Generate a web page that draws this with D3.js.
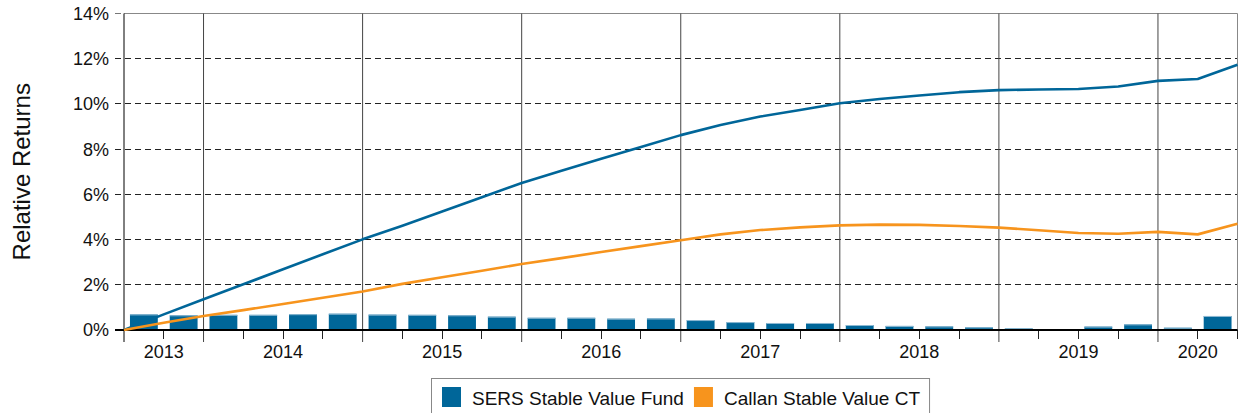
<!DOCTYPE html>
<html>
<head>
<meta charset="utf-8">
<script src="https://cdn.jsdelivr.net/npm/d3@7"></script>
<style>
  html, body { margin: 0; padding: 0; background: #fff; }
  svg { display: block; font-family: "Liberation Sans", Arial, sans-serif; }
</style>
</head>
<body>
<svg id="chart" width="1238" height="413"></svg>
<script>
// Quarterly periods, Q3 2013 through Q2 2020
const quarters = [
  "2013 Q3", "2013 Q4",
  "2014 Q1", "2014 Q2", "2014 Q3", "2014 Q4",
  "2015 Q1", "2015 Q2", "2015 Q3", "2015 Q4",
  "2016 Q1", "2016 Q2", "2016 Q3", "2016 Q4",
  "2017 Q1", "2017 Q2", "2017 Q3", "2017 Q4",
  "2018 Q1", "2018 Q2", "2018 Q3", "2018 Q4",
  "2019 Q1", "2019 Q2", "2019 Q3", "2019 Q4",
  "2020 Q1", "2020 Q2"
];

// Quarterly return of the fund (%), drawn as bars
const sersQuarterly = [
  0.69, 0.65, 0.67, 0.67, 0.70, 0.72, 0.68, 0.67, 0.65, 0.59,
  0.54, 0.54, 0.50, 0.51, 0.44, 0.35, 0.31, 0.31, 0.22, 0.18,
  0.16, 0.12, 0.07, 0.03, 0.15, 0.25, 0.10, 0.62
];

// Cumulative relative returns (%), at the start and at each quarter end
const sersCumulative = [
  0.00, 0.69, 1.36, 2.02, 2.69, 3.35, 4.01, 4.61, 5.24, 5.87,
  6.50, 7.04, 7.57, 8.10, 8.62, 9.07, 9.44, 9.73, 10.03, 10.22,
  10.37, 10.52, 10.61, 10.64, 10.66, 10.77, 11.02, 11.10, 11.73
];
const callanCumulative = [
  0.00, 0.32, 0.62, 0.88, 1.15, 1.43, 1.70, 2.04, 2.33, 2.62,
  2.92, 3.18, 3.45, 3.71, 3.97, 4.23, 4.42, 4.54, 4.63, 4.66,
  4.65, 4.60, 4.53, 4.41, 4.29, 4.26, 4.34, 4.23, 4.70
];

const yTicks = [0, 2, 4, 6, 8, 10, 12, 14];
const seriesNames = ["SERS Stable Value Fund", "Callan Stable Value CT"];
const seriesColors = ["#006699", "#F7941D"];
const axisTitle = "Relative Returns";

(function draw() {
  const svg = d3.select("#chart");
  const plotLeft = 124, plotRight = 1237.5, plotTop = 13.5, plotBottom = 330;
  const crisp = v => Math.round(v - 0.5) + 0.5;

  const y = d3.scaleLinear().domain([0, 14]).range([plotBottom, plotTop]);
  const xBand = d3.scaleBand().domain(quarters).range([plotLeft, plotRight])
    .paddingInner(0.3).paddingOuter(0.15);
  const xEdge = d3.scaleLinear().domain([0, quarters.length]).range([plotLeft, plotRight]);

  // Horizontal grid (dashed), top border
  const grid = svg.append("g");
  yTicks.forEach(t => {
    const yy = crisp(y(t));
    if (t === 0) return;
    if (t === 14) {
      grid.append("line").attr("x1", plotLeft - 9).attr("x2", plotLeft).attr("y1", yy).attr("y2", yy)
        .attr("stroke", "#777").attr("stroke-dasharray", "6,4");
      grid.append("line").attr("x1", plotLeft).attr("x2", plotRight).attr("y1", yy).attr("y2", yy)
        .attr("stroke", "#888");
    } else {
      grid.append("line").attr("x1", plotLeft - 9).attr("x2", plotRight).attr("y1", yy).attr("y2", yy)
        .attr("stroke", "#222").attr("stroke-dasharray", "6,4");
    }
  });

  // Right border
  grid.append("line").attr("x1", plotRight).attr("x2", plotRight)
    .attr("y1", crisp(y(14))).attr("y2", plotBottom).attr("stroke", "#888");

  // Year boundaries and year labels
  const yearOf = q => q.slice(0, 4);
  const years = Array.from(new Set(quarters.map(yearOf)));
  const boundaries = [0];
  quarters.forEach((q, i) => { if (i > 0 && yearOf(q) !== yearOf(quarters[i - 1])) boundaries.push(i); });

  boundaries.forEach(i => {
    grid.append("line").attr("x1", xEdge(i)).attr("x2", xEdge(i))
      .attr("y1", crisp(y(14))).attr("y2", plotBottom + 12)
      .attr("stroke", i === 0 ? "#000" : "#444");
  });

  // Quarter ticks below the baseline
  d3.range(1, quarters.length + 1).filter(i => !boundaries.includes(i)).forEach(i => {
    grid.append("line").attr("x1", crisp(xEdge(i))).attr("x2", crisp(xEdge(i)))
      .attr("y1", plotBottom).attr("y2", plotBottom + 9).attr("stroke", "#222");
  });

  years.forEach(yr => {
    const idx = quarters.map((q, i) => yearOf(q) === yr ? i : -1).filter(i => i >= 0);
    const cx = (xEdge(idx[0]) + xEdge(idx[idx.length - 1] + 1)) / 2;
    svg.append("text").attr("x", cx).attr("y", plotBottom + 28)
      .attr("text-anchor", "middle").attr("font-size", 18).attr("fill", "#111").text(yr);
  });

  // Y tick labels
  yTicks.forEach(t => {
    svg.append("text").attr("x", plotLeft - 15).attr("y", y(t)).attr("dy", "0.36em")
      .attr("text-anchor", "end").attr("font-size", 18).attr("fill", "#111").text(t + "%");
  });

  // Axis title
  svg.append("text")
    .attr("transform", `translate(30,${(plotTop + plotBottom) / 2}) rotate(-90)`)
    .attr("text-anchor", "middle").attr("font-size", 24).attr("fill", "#111").text(axisTitle);

  // Bars: quarterly fund returns
  const bars = svg.append("g");
  bars.selectAll("rect").data(sersQuarterly).join("rect")
    .attr("x", (d, i) => xBand(quarters[i]))
    .attr("width", xBand.bandwidth())
    .attr("y", d => y(d))
    .attr("height", d => y(0) - y(d))
    .attr("fill", seriesColors[0]);
  bars.selectAll("line").data(sersQuarterly).join("line")
    .attr("x1", (d, i) => xBand(quarters[i]))
    .attr("x2", (d, i) => xBand(quarters[i]) + xBand.bandwidth())
    .attr("y1", d => y(d) + 0.5).attr("y2", d => y(d) + 0.5)
    .attr("stroke", "#8fbad3").attr("stroke-width", 1);

  // Baseline
  svg.append("line").attr("x1", plotLeft - 9).attr("x2", plotRight)
    .attr("y1", plotBottom).attr("y2", plotBottom)
    .attr("stroke", "#000").attr("stroke-width", 2);

  // Cumulative lines
  const line = d3.line().x((d, i) => xEdge(i)).y(d => y(d));
  [sersCumulative, callanCumulative].forEach((s, k) => {
    svg.append("path").attr("d", line(s)).attr("fill", "none")
      .attr("stroke", seriesColors[k]).attr("stroke-width", 2.6)
      .attr("stroke-linejoin", "round");
  });

  // Legend, centred under the plot
  const legend = svg.append("g");
  const box = legend.append("rect").attr("fill", "#fff").attr("stroke", "#888");
  let cursor = 0;
  seriesNames.forEach((name, k) => {
    legend.append("rect").attr("x", cursor).attr("y", 0).attr("width", 19).attr("height", 20)
      .attr("fill", seriesColors[k]);
    const tx = legend.append("text").attr("x", cursor + 30).attr("y", 18)
      .attr("font-size", 19).attr("fill", "#111").text(name);
    cursor += 30 + tx.node().getComputedTextLength() + 10;
  });
  const legendWidth = cursor - 10 + 20;
  const lx = (plotLeft + plotRight) / 2 - legendWidth / 2;
  box.attr("x", -10.5).attr("y", -8.5).attr("width", legendWidth).attr("height", 50);
  legend.attr("transform", `translate(${Math.round(lx + 10)},387)`);
})();
</script>
</body>
</html>
